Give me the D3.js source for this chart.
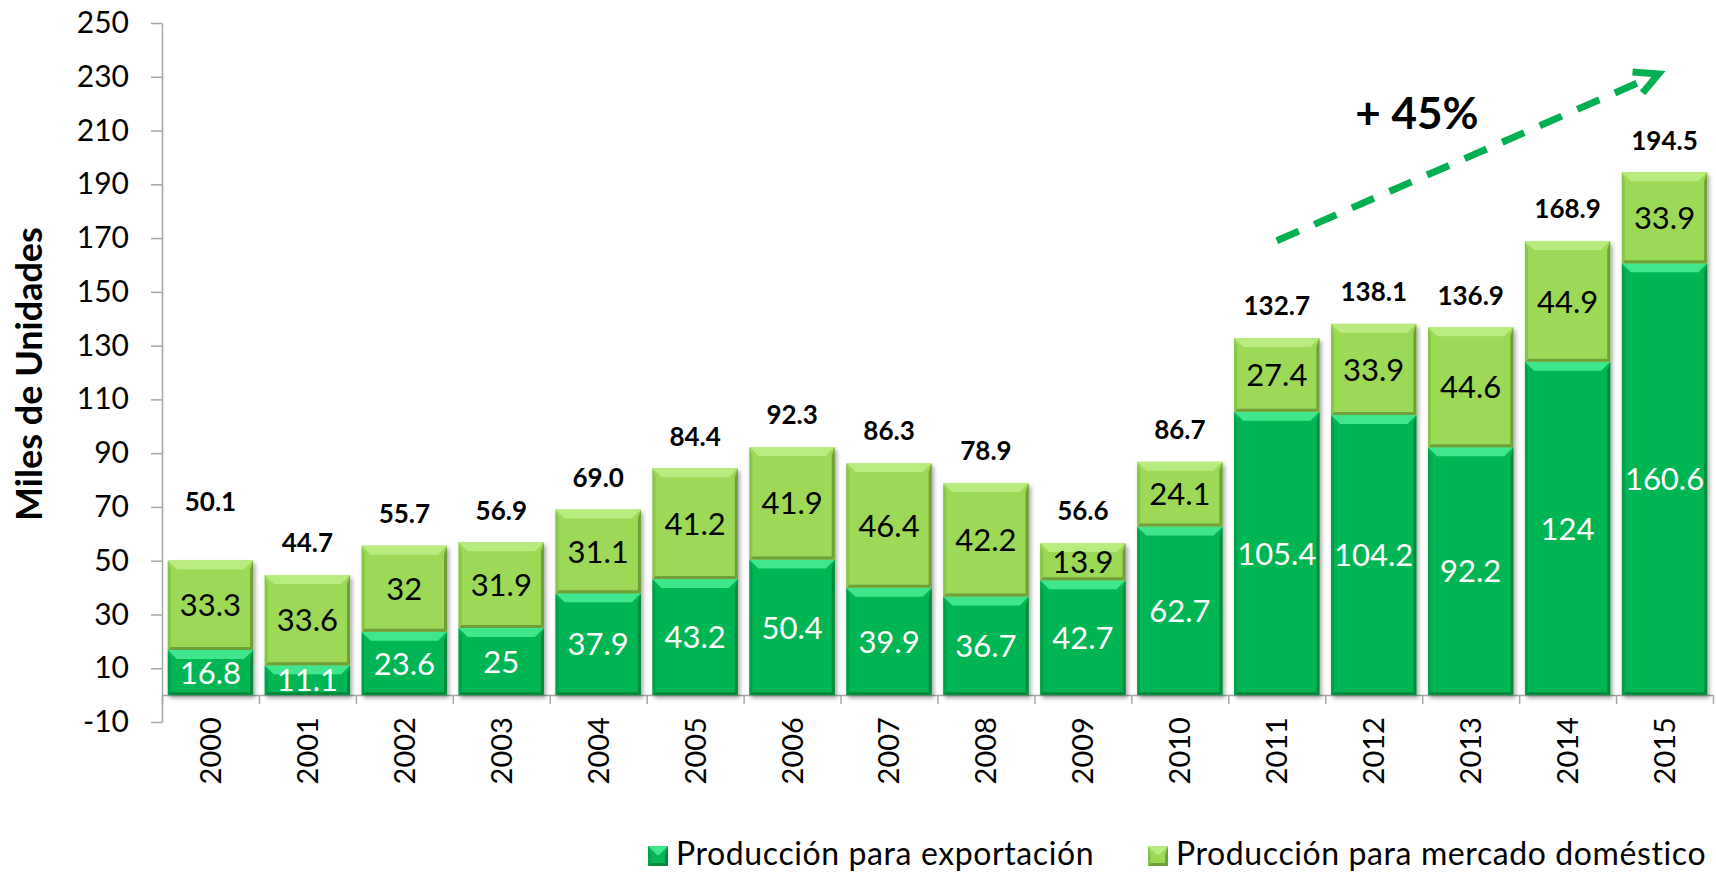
<!DOCTYPE html>
<html>
<head>
<meta charset="utf-8">
<script src="https://cdnjs.cloudflare.com/ajax/libs/d3/7.8.5/d3.min.js"></script>
<style>
  html, body { margin: 0; padding: 0; background: #fff; }
  svg { display: block; font-family: Lato, "Open Sans", sans-serif; }
  svg text { font-family: Lato, "Open Sans", sans-serif; }
  .axis path, .axis line { stroke: #a6a6a6; stroke-width: 1.5; }
</style>
</head>
<body>
<div id="chart"></div>
<script>
// data
const years = ["2000","2001","2002","2003","2004","2005","2006","2007",
               "2008","2009","2010","2011","2012","2013","2014","2015"];
const exportacion = [16.8, 11.1, 23.6, 25, 37.9, 43.2, 50.4, 39.9, 36.7, 42.7, 62.7, 105.4, 104.2, 92.2, 124, 160.6];
const domestico   = [33.3, 33.6, 32, 31.9, 31.1, 41.2, 41.9, 46.4, 42.2, 13.9, 24.1, 27.4, 33.9, 44.6, 44.9, 33.9];
const totales     = [50.1, 44.7, 55.7, 56.9, 69.0, 84.4, 92.3, 86.3, 78.9, 56.6, 86.7, 132.7, 138.1, 136.9, 168.9, 194.5];
const yTicks = [-10, 10, 30, 50, 70, 90, 110, 130, 150, 170, 190, 210, 230, 250];
const seriesNames = ["Producción para exportación", "Producción para mercado doméstico"];
const growthLabel = "+ 45%";

let width = 1716, height = 873;
let margin = {top: 23, right: 3, bottom: 151, left: 162};

const svg = d3.select("#chart")
  .append("svg")
    .attr("width", width)
    .attr("height", height);

// shadow
const defs = svg.append("defs");
const shadow = defs.append("filter").attr("id", "shadow")
  .attr("x", "-10%").attr("y", "-10%").attr("width", "130%").attr("height", "130%");
shadow.append("feDropShadow")
  .attr("dx", 2).attr("dy", 3).attr("stdDeviation", 2.2)
  .attr("flood-color", "#000").attr("flood-opacity", 0.35);

const palette = {
  exp: {face: "#06b553", top: "#3fe68e", side: "#04a049", bottom: "#038a3e", text: "#fff"},
  dom: {face: "#9bd957", top: "#b9ec7f", side: "#87c646", bottom: "#6f9f38", text: "#000"}
};

// scales
const x = d3.scaleBand()
  .domain(years)
  .range([margin.left, width - margin.right])
  .paddingInner(0.12)
  .paddingOuter(0.06);

const y = d3.scaleLinear()
  .domain([-10, 250])
  .range([height - margin.bottom, margin.top]);

// y axis
const yAxis = svg.append("g")
  .attr("class", "axis")
  .attr("transform", "translate(" + margin.left + ",0)")
  .call(d3.axisLeft(y).tickValues(yTicks).tickSize(11).tickSizeOuter(0).tickPadding(22)
          .tickFormat(function(d) { return String(d); }));
yAxis.attr("font-family", null).attr("font-size", null);
yAxis.selectAll("text")
    .style("font-size", "30px")
    .attr("fill", "#000");

// x axis line and ticks at category boundaries
const xb = d3.scaleLinear().domain([0, years.length]).range([margin.left, width - margin.right]);
svg.append("g")
  .attr("class", "axis")
  .attr("transform", "translate(0," + y(0) + ")")
  .call(d3.axisBottom(xb).tickValues(d3.range(years.length + 1)).tickSize(9).tickSizeOuter(0).tickFormat(""));

// year labels
const xAxis = svg.append("g")
  .attr("transform", "translate(0," + y(0) + ")")
  .call(d3.axisBottom(x).tickSize(0));
xAxis.attr("font-family", null).attr("font-size", null);
xAxis.select(".domain").remove();
xAxis.selectAll(".tick text")
  .attr("transform", "translate(0,22) rotate(-90)")
  .attr("x", 0).attr("y", 0).attr("dy", "0.36em")
  .style("text-anchor", "end")
  .style("font-size", "29px")
  .attr("fill", "#000");

// bevelled segment
function bevelSegment(g, x0, y0, w, h, c) {
  if (h <= 0) return;
  const b = Math.min(9, h / 2), e = Math.min(3, h / 3);
  g.append("rect").attr("x", x0).attr("y", y0).attr("width", w).attr("height", h).attr("fill", c.face);
  g.append("polygon")
    .attr("points", [[x0, y0 + h], [x0 + e, y0 + h - e], [x0 + w - e, y0 + h - e], [x0 + w, y0 + h]].join(" "))
    .attr("fill", c.bottom);
  g.append("polygon")
    .attr("points", [[x0, y0], [x0 + e, y0 + b], [x0 + e, y0 + h - e], [x0, y0 + h]].join(" "))
    .attr("fill", c.side);
  g.append("polygon")
    .attr("points", [[x0 + w, y0], [x0 + w - e, y0 + b], [x0 + w - e, y0 + h - e], [x0 + w, y0 + h]].join(" "))
    .attr("fill", c.bottom);
  g.append("polygon")
    .attr("points", [[x0, y0], [x0 + w, y0], [x0 + w - b, y0 + b], [x0 + b, y0 + b]].join(" "))
    .attr("fill", c.top);
}

// bars
const bars = svg.append("g");
years.forEach(function(yr, i) {
  const g = bars.append("g").attr("filter", "url(#shadow)");
  const bx = x(yr), bw = x.bandwidth();
  const expTop = y(exportacion[i]);
  const domTop = y(exportacion[i] + domestico[i]);
  bevelSegment(g, bx, expTop, bw, y(0) - expTop, palette.exp);
  bevelSegment(g, bx, domTop, bw, expTop - domTop, palette.dom);
});

// inner labels
const labels = svg.append("g").style("text-anchor", "middle");
years.forEach(function(yr, i) {
  const cx = x(yr) + x.bandwidth() / 2;
  labels.append("text")
    .attr("x", cx)
    .attr("y", (y(0) + y(exportacion[i])) / 2)
    .attr("dy", "0.36em")
    .attr("fill", palette.exp.text)
    .style("font-size", "31px")
    .text(exportacion[i]);
  labels.append("text")
    .attr("x", cx)
    .attr("y", (y(exportacion[i]) + y(exportacion[i] + domestico[i])) / 2)
    .attr("dy", "0.36em")
    .attr("fill", palette.dom.text)
    .style("font-size", "31px")
    .text(domestico[i]);
  // totals above bars (first one sits higher in the original)
  const lift = i === 0 ? 59 : 32;
  labels.append("text")
    .attr("x", cx)
    .attr("y", y(exportacion[i] + domestico[i]) - lift)
    .attr("dy", "0.36em")
    .attr("fill", "#000")
    .style("font-size", "26px")
    .style("font-weight", "bold")
    .text(totales[i].toFixed(1));
});

// growth arrow annotation
const ax0 = x("2011") + x.bandwidth() / 2, ay0 = y(169);
const ax1 = x("2015") + x.bandwidth() / 2 - 6, ay1 = y(231);
svg.append("line")
  .attr("x1", ax0).attr("y1", ay0).attr("x2", ax1 - 12).attr("y2", ay1 + 5)
  .attr("stroke", "#00b050").attr("stroke-width", 7)
  .attr("stroke-dasharray", "24 17");
svg.append("path")
  .attr("d", "M" + (ax1 - 26) + "," + (ay1 - 2) + " L" + ax1 + "," + ay1 + " L" + (ax1 - 16) + "," + (ay1 + 19))
  .attr("fill", "none").attr("stroke", "#00b050").attr("stroke-width", 7)
  .attr("stroke-linejoin", "miter");
svg.append("text")
  .attr("x", 1417).attr("y", 129)
  .style("text-anchor", "middle")
  .style("font-size", "44px")
  .style("font-weight", "bold")
  .text(growthLabel);

// y axis title
svg.append("text")
  .attr("transform", "translate(29," + 374 + ") rotate(-90)")
  .attr("dy", "0.36em")
  .style("text-anchor", "middle")
  .style("font-size", "36px")
  .style("font-weight", "bold")
  .text("Miles de Unidades");

// legend
const legend = svg.append("g");
const legendX = [648, 1148];
[palette.exp, palette.dom].forEach(function(c, i) {
  const lg = legend.append("g").attr("transform", "translate(" + legendX[i] + ",846)");
  bevelSegment(lg, 0, 0, 20, 20, c);
  lg.append("text")
    .attr("x", 28).attr("y", 19)
    .style("font-size", "32px")
    .style("letter-spacing", "0.6px")
    .attr("fill", "#000")
    .text(seriesNames[i]);
});
</script>
</body>
</html>
